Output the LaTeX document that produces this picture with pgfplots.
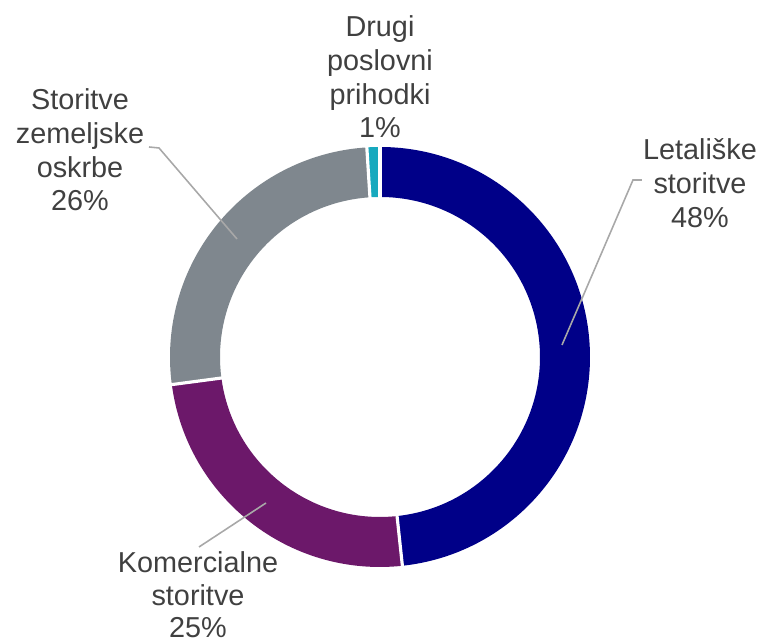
\documentclass[border=0pt]{standalone}
\usepackage{pgfplots}
\pgfplotsset{compat=1.18}
\usepackage{fontspec}
\setmainfont{Liberation Sans}
\definecolor{cNavy}{HTML}{000088}
\definecolor{cPurple}{HTML}{6C186A}
\definecolor{cGray}{HTML}{7F878E}
\definecolor{cTeal}{HTML}{17A9BE}
\definecolor{txt}{HTML}{404040}
\definecolor{lead}{HTML}{A8A8A8}
\begin{document}
\begin{tikzpicture}
% shares (percent), clockwise from 12 o'clock
\def\vA{48.3}% Letaliske storitve
\def\vB{24.6}% Komercialne storitve
\def\vC{26.1}% Storitve zemeljske oskrbe
\def\vD{1.0}%  Drugi poslovni prihodki
\pgfmathsetmacro\aA{90}
\pgfmathsetmacro\aB{\aA-3.6*\vA}
\pgfmathsetmacro\aC{\aB-3.6*\vB}
\pgfmathsetmacro\aD{\aC-3.6*\vC}
\pgfmathsetmacro\aE{\aD-3.6*\vD}
\def\cx{3.80}\def\cy{2.87}\def\ro{2.10}\def\ri{1.60}
\newcommand\slice[3]{%
  \fill[#3] (axis cs:{\cx+\ro*cos(#1)},{\cy+\ro*sin(#1)}) arc[start angle=#1,end angle=#2,radius=\ro cm]
   -- (axis cs:{\cx+\ri*cos(#2)},{\cy+\ri*sin(#2)}) arc[start angle=#2,end angle=#1,radius=\ri cm] -- cycle;}
\newcommand\sep[1]{%
  \draw[white,line width=0.9pt] (axis cs:{\cx+(\ri-0.05)*cos(#1)},{\cy+(\ri-0.05)*sin(#1)}) -- (axis cs:{\cx+(\ro+0.05)*cos(#1)},{\cy+(\ro+0.05)*sin(#1)});}
\begin{axis}[x=1cm,y=1cm,xmin=0,xmax=7.63,ymin=0,ymax=6.44,hide axis,clip=false]
\path (axis cs:0,0) rectangle (axis cs:7.63,6.44);
\slice{\aA}{\aB}{cNavy}
\slice{\aB}{\aC}{cPurple}
\slice{\aC}{\aD}{cGray}
\slice{\aD}{\aE}{cTeal}
\sep{\aA}\sep{\aB}\sep{\aC}\sep{\aD}
% leader lines
\draw[lead,line width=0.45pt] (axis cs:6.42,4.64) -- (axis cs:6.33,4.64) -- (axis cs:5.62,2.99);
\draw[lead,line width=0.45pt] (axis cs:1.49,4.97) -- (axis cs:1.59,4.96) -- (axis cs:2.37,4.05);
\draw[lead,line width=0.45pt] (axis cs:1.99,0.97) -- (axis cs:2.66,1.41);
% labels
\begin{scope}[every node/.style={align=center,text=txt,font=\fontsize{8.2}{9.6}\selectfont,inner sep=0pt}]
\node at (axis cs:3.80,5.67) {Drugi\\poslovni\\prihodki\\1\%};
\node at (axis cs:0.80,4.94) {Storitve\\zemeljske\\oskrbe\\26\%};
\node at (axis cs:7.00,4.61) {Letališke\\storitve\\48\%};
\node[font=\fontsize{8.2}{9.3}\selectfont] at (axis cs:1.98,0.49) {Komercialne\\storitve\\25\%};
\end{scope}
\end{axis}
\end{tikzpicture}
\end{document}
